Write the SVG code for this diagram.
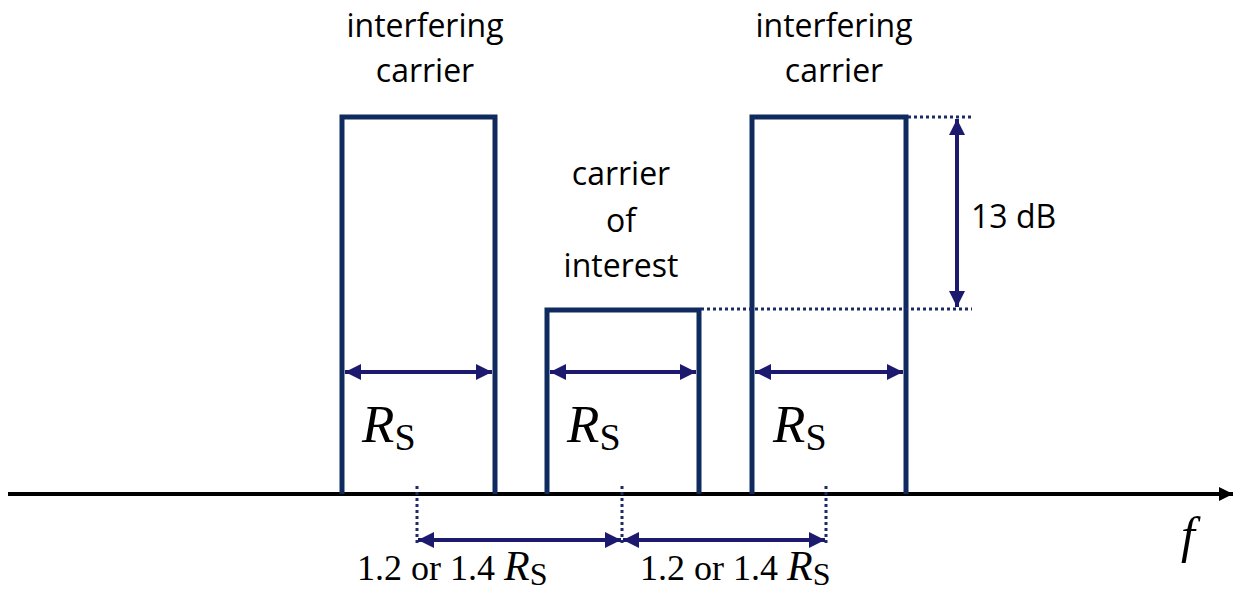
<svg xmlns="http://www.w3.org/2000/svg" width="1234" height="594" viewBox="0 0 1234 594">
<style>
.box{fill:none;stroke:#0f2a5e;stroke-width:5;stroke-linejoin:miter}
.arr{stroke:#1c1a6e;stroke-width:4;fill:none}
.dot{stroke:#1c2a68;stroke-width:3;stroke-dasharray:3 3;fill:none}
.lbl{font-family:"Open Sans","Liberation Sans",sans-serif;font-size:32px;fill:#000;text-anchor:middle}
.math{font-family:"Liberation Serif",serif;fill:#000}
</style>
<defs>
<marker id="ah" viewBox="0 0 10 10" refX="10" refY="5" markerWidth="4.2" markerHeight="4" orient="auto-start-reverse" markerUnits="strokeWidth">
<path d="M0,0 L10,5 L0,10 Z" fill="#1c1a6e"/>
</marker>
<marker id="axh" viewBox="0 0 10 10" refX="10" refY="5" markerWidth="4" markerHeight="3.5" orient="auto" markerUnits="strokeWidth">
<path d="M0,0 L10,5 L0,10 Z" fill="#000"/>
</marker>
</defs>

<g id="axis">
<line x1="8" y1="494" x2="1233" y2="494" stroke="#000" stroke-width="4" marker-end="url(#axh)"/>
<text class="math" x="1181" y="552" font-size="50" font-style="italic">f</text>
</g>

<g id="carrier-left">
<path class="box" d="M342,494 V117 H495 V494"/>
<text class="lbl" x="425" y="37">interfering</text>
<text class="lbl" x="425" y="82">carrier</text>
<text class="math" x="362" y="442"><tspan font-size="53" font-style="italic">R</tspan><tspan font-size="38" dy="8">S</tspan></text>
</g>

<g id="carrier-middle">
<path class="box" d="M547,494 V310 H699 V494"/>
<text class="lbl" x="621" y="185">carrier</text>
<text class="lbl" x="621" y="232">of</text>
<text class="lbl" x="621" y="277">interest</text>
<text class="math" x="567" y="442"><tspan font-size="53" font-style="italic">R</tspan><tspan font-size="38" dy="8">S</tspan></text>
</g>

<g id="carrier-right">
<path class="box" d="M752,494 V117 H906 V494"/>
<text class="lbl" x="834" y="37">interfering</text>
<text class="lbl" x="834" y="82">carrier</text>
<text class="math" x="773" y="442"><tspan font-size="53" font-style="italic">R</tspan><tspan font-size="38" dy="8">S</tspan></text>
</g>

<g id="connectors">
<line class="arr" x1="345" y1="372" x2="492" y2="372" marker-start="url(#ah)" marker-end="url(#ah)"/>
<line class="arr" x1="550" y1="372" x2="696" y2="372" marker-start="url(#ah)" marker-end="url(#ah)"/>
<line class="arr" x1="755" y1="372" x2="903" y2="372" marker-start="url(#ah)" marker-end="url(#ah)"/>
<line class="dot" x1="908" y1="117" x2="972" y2="117"/>
<line class="dot" x1="701" y1="309" x2="972" y2="309"/>
<line class="arr" x1="957" y1="119" x2="957" y2="307" marker-start="url(#ah)" marker-end="url(#ah)"/>
<line class="dot" x1="417" y1="486" x2="417" y2="543"/>
<line class="dot" x1="622" y1="486" x2="622" y2="543"/>
<line class="dot" x1="826" y1="486" x2="826" y2="543"/>
<line class="arr" x1="418" y1="540" x2="621" y2="540" marker-start="url(#ah)" marker-end="url(#ah)"/>
<line class="arr" x1="623" y1="540" x2="825" y2="540" marker-start="url(#ah)" marker-end="url(#ah)"/>
</g>

<g id="labels">
<text class="lbl" x="971" y="228" style="text-anchor:start">13 dB</text>
<text class="math" x="357" y="580" font-size="36">1.2 or 1.4 <tspan font-style="italic" font-size="42">R</tspan><tspan font-size="32" dy="5">S</tspan></text>
<text class="math" x="640" y="580" font-size="36">1.2 or 1.4 <tspan font-style="italic" font-size="42">R</tspan><tspan font-size="32" dy="5">S</tspan></text>
</g>
</svg>
